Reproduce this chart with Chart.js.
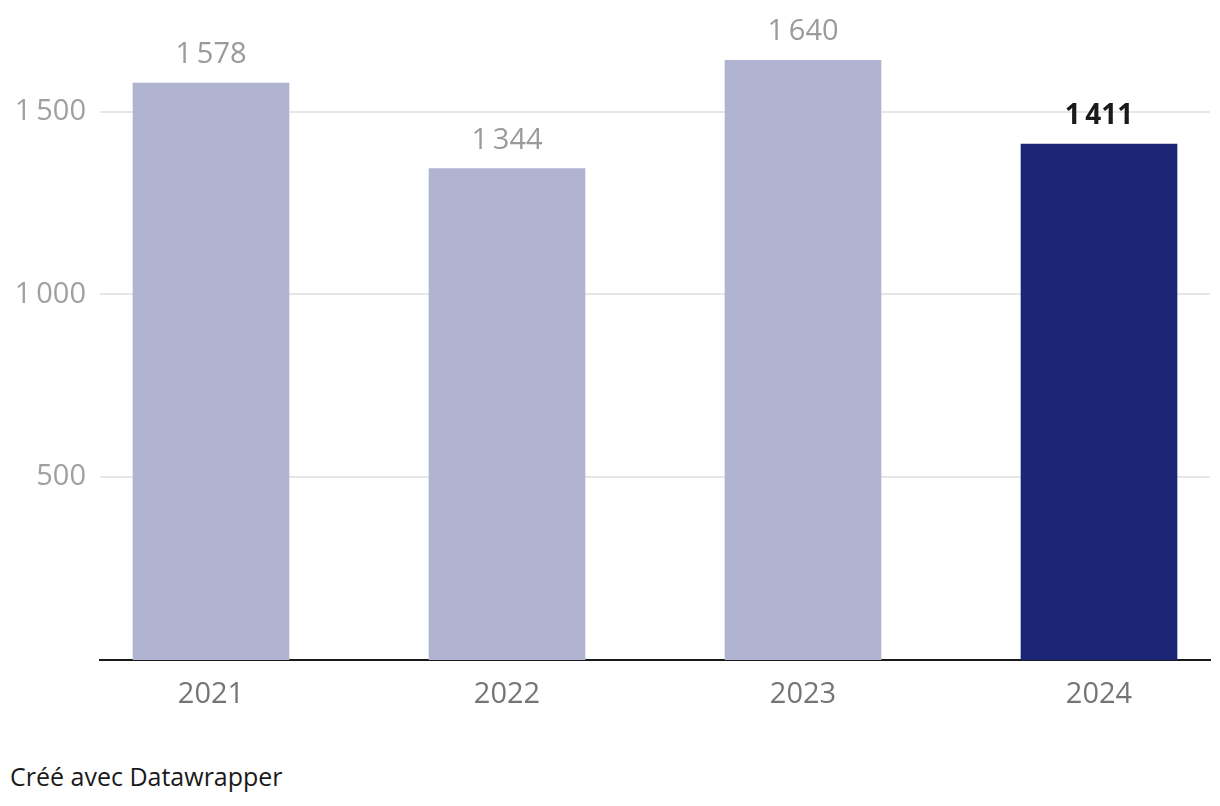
<!DOCTYPE html>
<html>
<head>
<meta charset="utf-8">
<script src="https://cdn.jsdelivr.net/npm/chart.js@4/dist/chart.umd.min.js"></script>
<style>
  body { margin: 0; background: #fff; font-family: "Open Sans", Lato, sans-serif; }
  #wrap { position: relative; width: 1220px; height: 740px; }
  #footer { position: absolute; left: 10px; top: 764px; font-size: 25px; line-height: 1; color: #1a1a1a; }
</style>
</head>
<body>
<div id="wrap"><canvas id="chart"></canvas></div>
<div id="footer">Créé avec Datawrapper</div>
<script>
const years = ["2021", "2022", "2023", "2024"];
const values = [1578, 1344, 1640, 1411];
const barColors = ["#b0b4d1", "#b0b4d1", "#b0b4d1", "#1b2677"];
const yTicks = [500, 1000, 1500];

// nombres avec espace fine : 1 578
function fmt(v) {
    const s = String(v);
    return s.length > 3 ? s.slice(0, s.length - 3) + "\u2009" + s.slice(-3) : s;
}

const valueLabels = {
    id: "valueLabels",
    afterDatasetsDraw(chart) {
        const ctx = chart.ctx;
        const meta = chart.getDatasetMeta(0);
        ctx.save();
        ctx.textAlign = "center";
        ctx.textBaseline = "alphabetic";
        meta.data.forEach((bar, i) => {
            const last = i === values.length - 1;
            ctx.font = last ? "bold 28px 'Open Sans'" : "29px 'Open Sans'";
            ctx.fillStyle = last ? "#1a1a1a" : "#9a9a9a";
            ctx.fillText(fmt(values[i]), bar.x, bar.y - 20);
        });
        ctx.restore();
    }
};

new Chart(document.getElementById("chart"), {
    type: "bar",
    data: {
        datasets: [{
            data: values.map((v, i) => ({x: i, y: v})),
            backgroundColor: barColors,
            barThickness: 156
        }]
    },
    options: {
        responsive: true,
        maintainAspectRatio: false,
        animation: false,
        layout: {padding: {top: 0, right: 10, left: 0, bottom: 0}},
        plugins: {legend: {display: false}, tooltip: {enabled: false}},
        scales: {
            x: {
                type: "linear",
                offset: false,
                min: -0.375,
                max: 3.375,
                afterBuildTicks: axis => { axis.ticks = years.map((_, i) => ({value: i})); },
                afterFit: scale => { scale.height = 80; },
                grid: {display: false, drawTicks: false, offset: false},
                border: {display: true, color: "#1a1a1a", width: 2},
                ticks: {
                    padding: 17,
                    color: "#757575",
                    font: {family: "Open Sans", size: 29},
                    callback: v => years[v]
                }
            },
            y: {
                min: 0,
                max: 1805,
                afterBuildTicks: axis => { axis.ticks = yTicks.map(v => ({value: v})); },
                afterFit: scale => {
                    scale.width = 100;
                    scale.paddingTop = 0;
                    scale.paddingBottom = 0;
                },
                grid: {color: "#e6e6e6", lineWidth: 2, drawTicks: false},
                border: {display: false},
                ticks: {
                    padding: 14,
                    color: "#a0a0a0",
                    font: {family: "Open Sans", size: 29},
                    callback: v => fmt(v)
                }
            }
        }
    },
    plugins: [valueLabels]
});
</script>
</body>
</html>
